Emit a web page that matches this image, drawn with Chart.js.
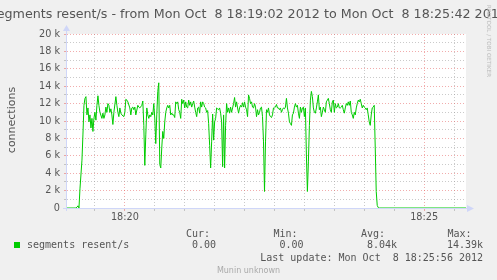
<!DOCTYPE html>
<html><head><meta charset="utf-8">
<script src="https://cdn.jsdelivr.net/npm/chart.js@4.4.1/dist/chart.umd.min.js"></script>
<style>html,body{margin:0;padding:0;background:#F0F0F0;overflow:hidden}#wrap{width:497px;height:280px;position:relative}canvas{display:block}</style>
</head><body><div id="wrap"><canvas id="c" width="497" height="280"></canvas></div>
<script>
const titleText = "segments resent/s - from Mon Oct  8 18:19:02 2012 to Mon Oct  8 18:25:42 2012";
const yAxisTitle = "connections";
const seriesLabel = "segments resent/s";
const seriesColor = "#00CC00";
// seconds after 18:19:02
const seconds = [
 0,9,10,11,12,13,15,16,17,18,19,20,21,22,23,24,25,26,27,28,29,30,31,32,33,
 35,36,37,38,39,40,41,42,43,44,45,46,47,
 49,50,51,52,53,54,55,
 57,58,59,60,61,
 63,64,65,66,67,68,69,
 71,72,73,
 75,76,77,78,79,80,81,82,83,84,
 85,86,87,88,89,90,91,92,93,94,
 95,96,97,98,99,100,101,102,103,104,
 105,106,107,108,109,110,111,112,113,114,
 115,116,117,118,119,120,121,122,123,124,
 125,126,127,128,129,130,131,132,133,134,
 135,136,137,138,139,140,141,142,143,144,
 145,146,147,148,149,150,151,152,153,154,
 155,156,157,158,159,160,161,162,163,164,
 165,166,167,168,169,170,171,172,173,174,
 175,176,177,178,179,180,181,182,183,184,
 185,186,187,188,189,190,191,192,193,194,
 195,196,197,198,199,200,201,202,203,204,
 205,206,207,208,209,210,211,212,213,214,
 215,216,217,218,219,220,221,222,223,224,
 225,226,227,228,229,230,231,232,233,234,
 235,236,237,238,239,240,241,242,243,244,
 245,246,247,248,249,250,251,252,253,254,
 255,256,257,258,259,260,261,262,263,264,
 265,266,267,268,269,270,271,272,273,274,
 275,276,277,278,279,280,281,282,283,284,
 285,286,287,288,289,290,291,292,293,294,
 295,296,297,298,299,300,301,302,303,304,
 305,306,307,308,309,310,311,312,313,400
];
// segments resent/s, in thousands
const resentK = [
 0,0,0.1,0.25,0,2.2,5.5,8.5,11.8,12.6,12.8,10.7,11.5,9.9,10.7,9.2,10.3,8.8,10.3,11.0,10.1,11.8,12.9,11.8,11.0,
 10.3,10.9,10.3,10.7,11.6,11.0,12.0,11.8,11.0,11.4,10.7,9.6,11.0,
 12.8,11.8,11.0,10.5,11.5,10.9,10.7,
 10.5,11.0,12.5,12.4,12.2,
 11.5,10.7,11.5,11.6,11.3,11.6,10.7,
 11.8,11.6,11.5,
 11.8,12.3,9.5,4.9,8.4,11.5,10.7,10.3,10.7,10.5,
 11.0,10.7,12.0,10.3,7.4,10.7,13.4,14.39,5.0,4.6,
 6.9,8.8,8.0,9.9,11.0,11.5,11.8,11.5,11.8,10.7,
 10.9,10.7,10.7,10.4,12.2,12.0,12.2,11.3,11.0,10.3,
 12.5,12.0,12.4,11.5,12.2,11.6,11.5,12.4,11.8,12.2,
 11.6,12.0,12.3,11.6,11.0,10.5,11.5,11.6,10.9,12.2,
 11.6,12.2,12.0,11.6,11.5,11.0,11.2,9.7,7.2,4.6,
 7.6,10.8,7.8,9.9,10.3,11.5,11.4,11.3,11.5,10.9,
 9.9,4.75,10.7,4.6,9.5,12.0,11.0,11.5,10.9,11.6,
 11.0,11.5,12.0,12.7,11.6,12.2,11.5,10.9,11.5,11.8,
 11.6,12.1,11.6,12.2,11.6,11.3,10.5,13.0,12.6,12.0,
 12.2,11.6,11.5,12.0,11.6,10.5,11.3,10.7,11.0,11.5,
 11.6,10.5,7.6,1.9,7.6,11.3,11.0,11.5,10.7,10.5,
 10.4,10.7,11.5,11.5,11.6,11.9,11.5,11.5,11.3,11.5,
 11.0,11.3,11.5,11.4,11.6,12.6,11.5,10.9,9.9,9.7,
 9.5,10.7,10.9,11.6,12.0,11.6,11.8,10.9,10.3,11.6,
 11.0,11.5,11.6,10.5,11.5,6.1,1.9,5.3,9.5,12.4,
 13.4,12.8,11.5,11.0,10.9,11.5,12.2,13.0,11.3,11.6,
 10.5,11.0,11.6,11.3,11.0,12.2,12.4,12.6,12.0,11.3,
 11.0,12.2,12.4,11.0,12.0,11.5,11.6,12.0,11.5,11.5,
 11.6,11.8,11.3,10.9,11.5,12.0,11.8,12.2,11.8,12.3,
 11.0,10.7,10.3,11.0,10.7,11.5,12.0,12.4,12.2,12.5,
 12.0,11.5,11.8,11.6,11.5,11.3,11.5,10.7,9.9,9.5,
 10.7,11.5,11.6,11.8,7.0,1.9,0.3,0.05,0,0
];
const yTickValues = [0,1,2,3,4,5,6,7,8,9,10,11,12,13,14,15,16,17,18,19,20];
const xGridSeconds = [28,58,88,118,148,178,208,238,268,298,328,358,388];
const xTickLabels = {58:"18:20", 358:"18:25"};
const statHeads = ["Cur:","Min:","Avg:","Max:"];
const statValues = ["0.00","0.00","8.04k","14.39k"];
const lastUpdate = "Last update: Mon Oct  8 18:25:56 2012";
const watermark = "Munin unknown";
const sideText = "RRDTOOL / TOBI OETIKER";

const FONT = "DejaVu Sans";
const MONO = "DejaVu Sans Mono";
const TXT = "#555555";
const GRID = "rgba(150,150,150,0.5)";
const MGRID = "rgba(228,90,90,0.5)";
const AXIS = "#CFD6F8";

const rrdPlugin = {
  id: 'rrd',
  beforeDraw(chart) {
    const {ctx, chartArea: a} = chart;
    ctx.save();
    ctx.fillStyle = '#F0F0F0';
    ctx.fillRect(0, 0, chart.width, chart.height);
    ctx.fillStyle = '#FFFFFF';
    ctx.fillRect(a.left, a.top, a.right - a.left, a.bottom - a.top);
    ctx.restore();
  },
  beforeDatasetsDraw(chart) {
    const {ctx, chartArea: a} = chart;
    ctx.save();
    ctx.strokeStyle = AXIS; ctx.fillStyle = AXIS; ctx.lineWidth = 1;
    const yb = a.bottom + 0.5, xl = a.left - 0.5;
    ctx.beginPath(); ctx.moveTo(a.left - 4, yb); ctx.lineTo(a.right + 2, yb); ctx.stroke();
    ctx.beginPath(); ctx.moveTo(a.right + 1, yb - 3.5); ctx.lineTo(a.right + 8, yb); ctx.lineTo(a.right + 1, yb + 3.5); ctx.closePath(); ctx.fill();
    ctx.beginPath(); ctx.moveTo(xl, a.bottom + 3); ctx.lineTo(xl, a.top - 4); ctx.stroke();
    ctx.beginPath(); ctx.moveTo(xl - 3.5, a.top - 3); ctx.lineTo(xl, a.top - 9); ctx.lineTo(xl + 3.5, a.top - 3); ctx.closePath(); ctx.fill();
    ctx.restore();
  },
  afterDraw(chart) {
    const {ctx} = chart;
    ctx.save();
    ctx.fillStyle = TXT;
    ctx.textBaseline = 'alphabetic';
    ctx.font = `12.7px "${FONT}"`;
    ctx.textAlign = 'center';
    ctx.fillText(titleText, 248.5, 18);
    // y title
    ctx.save();
    ctx.translate(15, 120);
    ctx.rotate(-Math.PI / 2);
    ctx.font = `11px "${FONT}"`;
    ctx.fillText(yAxisTitle, 0, 0);
    ctx.restore();
    // side text
    ctx.save();
    ctx.translate(487, 5);
    ctx.rotate(Math.PI / 2);
    ctx.font = `5.6px "${FONT}"`;
    ctx.textAlign = 'left';
    ctx.fillStyle = '#BBBBBB';
    ctx.fillText(sideText, 0, 0);
    ctx.restore();
    // legend
    ctx.font = `10px "${MONO}"`;
    ctx.textAlign = 'left';
    const ds = chart.data.datasets[0];
    ctx.fillStyle = ds.borderColor;
    ctx.fillRect(14, 242, 6, 6);
    ctx.fillStyle = TXT;
    ctx.fillText(ds.label, 27, 248);
    const headX = [186, 273.5, 361, 447.5];
    const valX = [192, 279.5, 367, 447];
    statHeads.forEach((h, i) => ctx.fillText(h, headX[i], 236.5));
    statValues.forEach((v, i) => ctx.fillText(v, valX[i], 248));
    ctx.textAlign = 'right';
    ctx.fillText(lastUpdate, 483, 261);
    ctx.textAlign = 'center';
    ctx.font = `8px "${FONT}"`;
    ctx.fillStyle = '#AAAAAA';
    ctx.fillText(watermark, 248.5, 272.5);
    ctx.restore();
  }
};

new Chart(document.getElementById('c'), {
  type: 'line',
  data: {
    datasets: [{
      label: seriesLabel,
      data: seconds.map((s, i) => ({x: s, y: resentK[i]})),
      borderColor: seriesColor,
      borderWidth: 1,
      pointRadius: 0,
      tension: 0,
      fill: false
    }]
  },
  options: {
    responsive: false,
    animation: false,
    events: [],
    layout: {padding: {left: 0, right: 31, top: 34, bottom: 0}},
    plugins: {legend: {display: false}, tooltip: {enabled: false}, title: {display: false}},
    scales: {
      x: {
        type: 'linear', min: 0, max: 400,
        afterBuildTicks: s => { s.ticks = xGridSeconds.map(v => ({value: v})); },
        afterFit: s => { s.height = 72; },
        ticks: {
          autoSkip: false, maxRotation: 0, padding: 1,
          callback: v => xTickLabels[v] || '',
          font: {family: FONT, size: 9.7}, color: TXT
        },
        grid: {
          drawTicks: true, tickLength: 3, lineWidth: 1,
          color: c => (c.tick && xTickLabels[c.tick.value]) ? MGRID : GRID
        },
        border: {display: false, dash: [1, 2]}
      },
      y: {
        type: 'linear', min: 0, max: 20,
        afterBuildTicks: s => { s.ticks = yTickValues.map(v => ({value: v})); },
        afterFit: s => { s.width = 67; },
        ticks: {
          autoSkip: false, padding: 4,
          callback: v => v % 2 === 0 ? (v === 0 ? '0' : v + ' k') : '',
          font: {family: FONT, size: 9.7}, color: TXT
        },
        grid: {
          drawTicks: true, tickLength: 3, lineWidth: 1,
          color: c => (c.tick && c.tick.value % 2 === 0) ? MGRID : GRID
        },
        border: {display: false, dash: [1, 2]}
      }
    }
  },
  plugins: [rrdPlugin]
});
</script>
</body></html>
